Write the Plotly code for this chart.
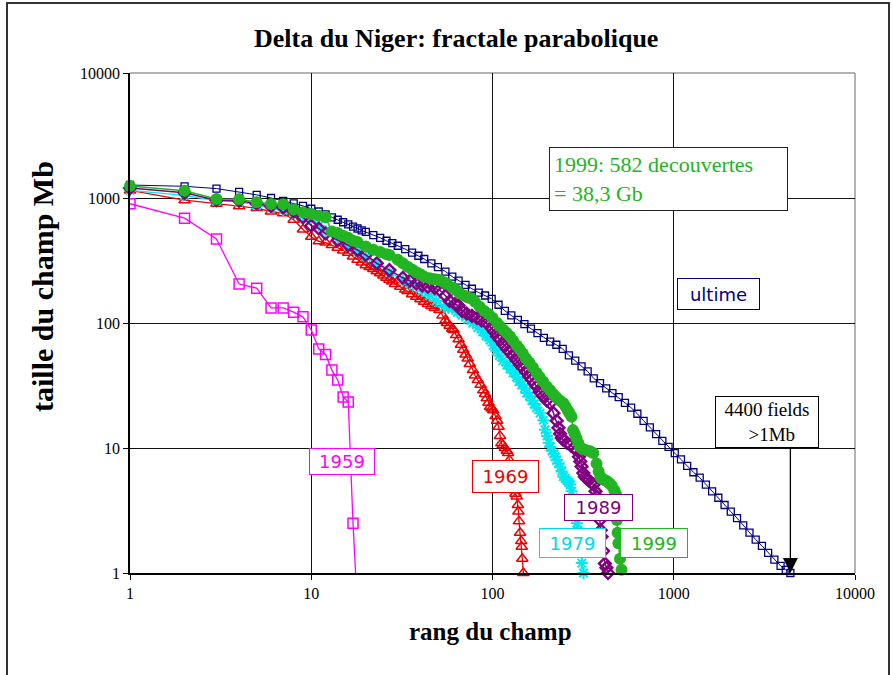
import math
import plotly.graph_objects as go

# ---------------- data: (rank of field, size in Mb) ----------------
ultime = [(1, 1270), (2, 1240), (3, 1190), (4, 1120), (5, 1060), (6, 1000), (7, 950), (8, 905),
          (9, 865), (10, 820), (11, 780), (12, 740), (13, 700), (14, 670), (15, 640), (16, 615),
          (17, 590), (18, 570), (19, 550), (20, 535), (22, 505), (24, 480), (26, 455),
          (28, 435), (30, 415), (33, 390), (36, 365), (39, 345), (42, 325), (46, 300),
          (50, 280), (55, 258), (60, 235), (65, 218), (71, 202), (77, 188), (84, 175),
          (91, 166), (99, 156), (108, 140), (117, 125), (127, 115), (138, 106), (150, 98),
          (163, 90), (177, 83), (192, 76), (208, 71), (225, 67), (244, 62), (264, 55),
          (286, 50), (310, 45), (335, 41), (362, 36), (392, 33), (424, 30), (459, 27.5),
          (497, 25.5), (538, 23), (582, 21), (630, 18.8), (682, 16.5), (738, 14.6),
          (799, 12.9), (865, 11.4), (936, 10.2), (1013, 9.1), (1096, 8.1), (1186, 7.2),
          (1284, 6.4), (1390, 5.8), (1504, 5.1), (1628, 4.5), (1762, 4.0), (1907, 3.5),
          (2064, 3.1), (2234, 2.75), (2418, 2.4), (2617, 2.1), (2832, 1.85), (3065, 1.65),
          (3317, 1.45), (3590, 1.28), (3885, 1.14), (4150, 1.06), (4400, 1.0)]

y1959 = [(1, 900), (2, 690), (3, 470), (4, 205), (5, 190), (6, 132), (7, 132), (8, 122),
         (9, 112), (10, 88), (11, 62), (12, 56), (13, 42), (14, 35), (15, 25.6), (16, 23.3),
         (17, 2.5), (18, 0.5)]

y1969 = [(1, 1150), (2, 960), (3, 900), (4, 860), (5, 830), (6, 780), (7, 755), (8, 670),
         (9, 560), (10, 490), (11, 450), (12, 440), (13, 420), (14, 400), (15, 380), (16, 365),
         (17, 340), (18, 320), (19, 305), (20, 290), (21, 280), (22, 270), (23, 260),
         (24, 250), (25, 240), (26, 230), (27, 222), (28, 215), (29, 205), (31, 195),
         (33, 185), (34, 180), (36, 170), (38, 162), (40, 155), (42, 148), (44, 142),
         (46, 137), (48, 132), (51, 127), (53, 115), (55, 105), (56, 100), (58, 95), (60, 90),
         (61, 88), (63, 80), (65, 74), (67, 67), (69, 61), (71, 56), (73, 52), (75, 47),
         (78, 42), (80, 38), (83, 35), (86, 32), (89, 29), (91, 27), (93, 25), (95, 23),
         (97, 21.4), (99, 20.7), (101, 20), (104, 18), (106, 16.5), (108, 14.8), (110, 12.5),
         (112, 10.9), (114, 10.5), (117, 10), (120, 9.5), (122, 9.1), (124, 8), (126, 7),
         (128, 6.2), (130, 5.5), (132, 5), (133, 4.6), (134, 4.3), (136, 4.1), (138, 3.5),
         (139, 3.1), (140, 2.6), (142, 2.1), (144, 1.8), (145, 1.62), (146, 1.3), (148, 1.0)]

y1979 = [(1, 1150), (2, 1050), (3, 950), (4, 930), (5, 880), (6, 830), (7, 800), (8, 760),
         (9, 720), (10, 690), (11, 600), (12, 540), (14, 470), (16, 415), (18, 375), (20, 340),
         (23, 300), (27, 255), (32, 220), (35, 205), (38, 195), (41, 180), (45, 165),
         (49, 150), (54, 135), (57, 132), (60, 130), (64, 122), (68, 115), (73, 107),
         (78, 100), (83, 92), (88, 85), (92, 79), (97, 73), (101, 66), (105, 60), (109, 55),
         (114, 50), (120, 46), (125, 43), (130, 40), (136, 37), (140, 34), (145, 32),
         (150, 30), (154, 27.5), (160, 26), (165, 24), (170, 22.5), (175, 21), (183, 19),
         (191, 16.7), (195, 14), (200, 12.5), (204, 11), (208, 10.2), (213, 9.5), (218, 9),
         (222, 8.5), (226, 8), (231, 7.5), (236, 7), (241, 6.5), (246, 5.9), (252, 5.7),
         (258, 5.5), (263, 5.3), (268, 5.1), (273, 4.5), (278, 4), (282, 3.5), (286, 3),
         (289, 2.8), (292, 2.5), (296, 2.2), (300, 1.9), (304, 1.53), (311, 1.2), (318, 1.0)]

y1989 = [(1, 1200), (2, 1100), (3, 960), (4, 950), (5, 900), (6, 860), (7, 840), (8, 780),
         (9, 700), (10, 600), (11, 570), (12, 520), (14, 460), (16, 420), (18, 384), (20, 350),
         (23, 300), (27, 265), (32, 230), (35, 218), (38, 207), (41, 200), (44, 195),
         (48, 190), (51, 184), (55, 165), (58, 150), (62, 142), (65, 138), (68, 125),
         (72, 119), (77, 114), (82, 110), (87, 105), (93, 100), (98, 92), (102, 85),
         (106, 78), (110, 73), (115, 67), (120, 62), (125, 58), (130, 54), (136, 50),
         (142, 46), (148, 43), (154, 40), (160, 37), (165, 35), (170, 33), (175, 31),
         (182, 28), (190, 26), (199, 24), (208, 22.8), (217, 19), (226, 16.5), (231, 14.5),
         (236, 13), (241, 12), (246, 11.6), (258, 11), (270, 10.5), (281, 10), (292, 9.6),
         (300, 8.5), (305, 7.8), (310, 7.1), (317, 6.3), (323, 5.9), (330, 5.7), (340, 5.5),
         (350, 5.3), (361, 5.1), (370, 4.5), (376, 4.1), (385, 3.2), (392, 2.65), (396, 2.2),
         (400, 1.95), (408, 1.5), (417, 1.19), (425, 1.1), (434, 1.0)]

y1999 = [(1, 1250), (2, 1145), (3, 980), (4, 975), (5, 925), (6, 895), (7, 890), (8, 810),
         (9, 770), (10, 745), (11, 720), (12, 700), (13, 540), (14, 525), (15, 500), (16, 480),
         (17, 455), (18, 445), (20, 410), (22, 385), (24, 370), (26, 355), (27, 350),
         (30, 320), (32, 300), (34, 282), (36, 268), (38, 255), (40, 245), (42, 234),
         (45, 228), (47, 225), (49, 223), (51, 221), (54, 212), (56, 205), (60, 192),
         (63, 184), (66, 172), (70, 165), (73, 160), (76, 158), (80, 148), (85, 135),
         (90, 125), (95, 118), (100, 110), (106, 100), (110, 94), (115, 88), (120, 83),
         (125, 78), (130, 72), (136, 66), (141, 62), (147, 57), (153, 52), (160, 48),
         (167, 44), (175, 40), (182, 37), (190, 34), (199, 31), (208, 29), (216, 27),
         (225, 25.5), (235, 24), (246, 22.8), (253, 21.5), (260, 20), (266, 19), (273, 17.8),
         (278, 13.9), (284, 13), (290, 12), (297, 11), (304, 10.2), (315, 9.8), (330, 9.6),
         (345, 9.4), (360, 9.1), (375, 7.5), (385, 6.5), (394, 5.9), (400, 5.7), (410, 5.6),
         (420, 5.5), (430, 5.4), (443, 5.2), (455, 5.0), (470, 4.6), (478, 4.3), (484, 4.1),
         (486, 2.65), (490, 2.1), (495, 1.73), (505, 1.3), (515, 1.06)]

x_ticks = [1, 10, 100, 1000, 10000]
y_ticks = [1, 10, 100, 1000, 10000]

arrow_rank = 4400
arrow_size = 1

# ---------------- figure ----------------
W, H = 893, 675
L, R, T, B = 130, 855, 73, 573   # plot area in pixels


def px(x):
    return (x - L) / (R - L)


def py(y):
    return (B - y) / (B - T)


def xs(pairs):
    return [p[0] for p in pairs]


def ys(pairs):
    return [p[1] for p in pairs]


fig = go.Figure()

fig.add_trace(go.Scatter(x=xs(ultime), y=ys(ultime), mode="lines+markers", name="ultime",
                         line=dict(color="#000080", width=1),
                         marker=dict(symbol="square-open", size=7, color="#000080",
                                     line=dict(width=1.3)),
                         cliponaxis=False))
fig.add_trace(go.Scatter(x=xs(y1959), y=ys(y1959), mode="lines+markers", name="1959",
                         line=dict(color="#ff00ff", width=1.3),
                         marker=dict(symbol="square-open", size=10, color="#ff00ff",
                                     line=dict(width=1.5))))
fig.add_trace(go.Scatter(x=xs(y1969), y=ys(y1969), mode="lines+markers", name="1969",
                         line=dict(color="#ee0000", width=1.3),
                         marker=dict(symbol="triangle-up-open", size=10, color="#ee0000",
                                     line=dict(width=1.5)),
                         cliponaxis=False))
fig.add_trace(go.Scatter(x=xs(y1979), y=ys(y1979), mode="lines+markers", name="1979",
                         line=dict(color="#00e8f0", width=1.3),
                         marker=dict(symbol="asterisk-open", size=10, color="#00e8f0",
                                     line=dict(width=2)),
                         cliponaxis=False))
fig.add_trace(go.Scatter(x=xs(y1989), y=ys(y1989), mode="lines+markers", name="1989",
                         line=dict(color="#800080", width=1.5),
                         marker=dict(symbol="diamond-open", size=9, color="#800080",
                                     line=dict(width=2.4)),
                         cliponaxis=False))
fig.add_trace(go.Scatter(x=xs(y1999), y=ys(y1999), mode="lines+markers", name="1999",
                         line=dict(color="#22b422", width=1.5),
                         marker=dict(symbol="circle", size=12, color="#22b422"),
                         cliponaxis=False))

serif = "Liberation Serif, Times New Roman, serif"
sans = "DejaVu Sans, Verdana, sans-serif"

annotations = []


def box(text, cx, cy, w, h, color, font, size, align="center", border=None, pad=0):
    annotations.append(dict(text=text, xref="paper", yref="paper", x=px(cx), y=py(cy),
                            xanchor="center", yanchor="middle", showarrow=False,
                            width=w - 2 - 2 * pad, height=h - 2 - 2 * pad, align=align,
                            valign="middle", bgcolor="white", bordercolor=border or color,
                            borderwidth=1, borderpad=pad,
                            font=dict(family=font, size=size, color=color)))


box("1959", 342, 461, 66, 27, "#ff00ff", sans, 18)
box("1969", 505, 476.5, 67, 33, "#ee0000", sans, 18)
box("1989", 598.5, 507, 69, 27, "#800080", sans, 18)
box("1979", 572.5, 543.3, 67, 30, "#00d8e8", sans, 18)
box("1999", 654, 543.3, 68, 30, "#22b422", sans, 18)
box("ultime", 718.3, 294, 83, 32, "#000080", sans, 18)
box("1999: 582 decouvertes<br>= 38,3 Gb", 668.3, 178.7, 239, 64, "#22b422", serif, 22,
    align="left", border="#222222", pad=4)
box("4400 fields<br>  >1Mb", 767.3, 421.5, 104, 52, "black", serif, 19)

# arrow to the 4400th field
annotations.append(dict(x=math.log10(arrow_rank), y=math.log10(arrow_size), xref="x", yref="y",
                        text="", showarrow=True, ax=0, ay=-(B - 447), arrowhead=2,
                        arrowsize=2.3, arrowwidth=1.3, arrowcolor="black", standoff=0))

# titles
annotations.append(dict(text="<b>Delta du Niger: fractale parabolique</b>", xref="paper",
                        yref="paper", x=px(456), y=py(39), showarrow=False,
                        xanchor="center", yanchor="middle",
                        font=dict(family=serif, size=26, color="black")))
annotations.append(dict(text="<b>rang du champ</b>", xref="paper", yref="paper",
                        x=px(490), y=py(632), showarrow=False, xanchor="center",
                        yanchor="middle", font=dict(family=serif, size=25, color="black")))
annotations.append(dict(text="<b>taille du champ Mb</b>", xref="paper", yref="paper",
                        x=px(42), y=py(287), showarrow=False, xanchor="center",
                        yanchor="middle", textangle=-90,
                        font=dict(family=serif, size=30, color="black")))

shapes = [
    # outer frame of the picture
    dict(type="rect", xref="paper", yref="paper", x0=px(7), x1=px(889), y0=py(700), y1=py(3),
         line=dict(color="#333333", width=2), fillcolor="rgba(0,0,0,0)", layer="below"),
    # top and right borders of the plot area (grey)
    dict(type="line", xref="paper", yref="paper", x0=0, x1=1, y0=1, y1=1,
         line=dict(color="#999999", width=1.5), layer="below"),
    dict(type="line", xref="paper", yref="paper", x0=1, x1=1, y0=0, y1=1,
         line=dict(color="#999999", width=1.5), layer="below"),
]

axis_common = dict(type="log", range=[0, 4], tickmode="array", showgrid=True,
                   gridcolor="#111111", gridwidth=1.2, showline=True, linecolor="black",
                   linewidth=1.5, ticks="outside", ticklen=5, tickcolor="black",
                   tickfont=dict(family=serif, size=16, color="black"), zeroline=False)

fig.update_layout(
    width=W, height=H,
    margin=dict(l=L, r=W - R, t=T, b=H - B),
    paper_bgcolor="white", plot_bgcolor="white",
    showlegend=False,
    xaxis=dict(**axis_common, tickvals=x_ticks, ticktext=[str(v) for v in x_ticks]),
    yaxis=dict(**axis_common, tickvals=y_ticks, ticktext=[str(v) for v in y_ticks]),
    annotations=annotations,
    shapes=shapes,
)

fig.write_html("out.html")
